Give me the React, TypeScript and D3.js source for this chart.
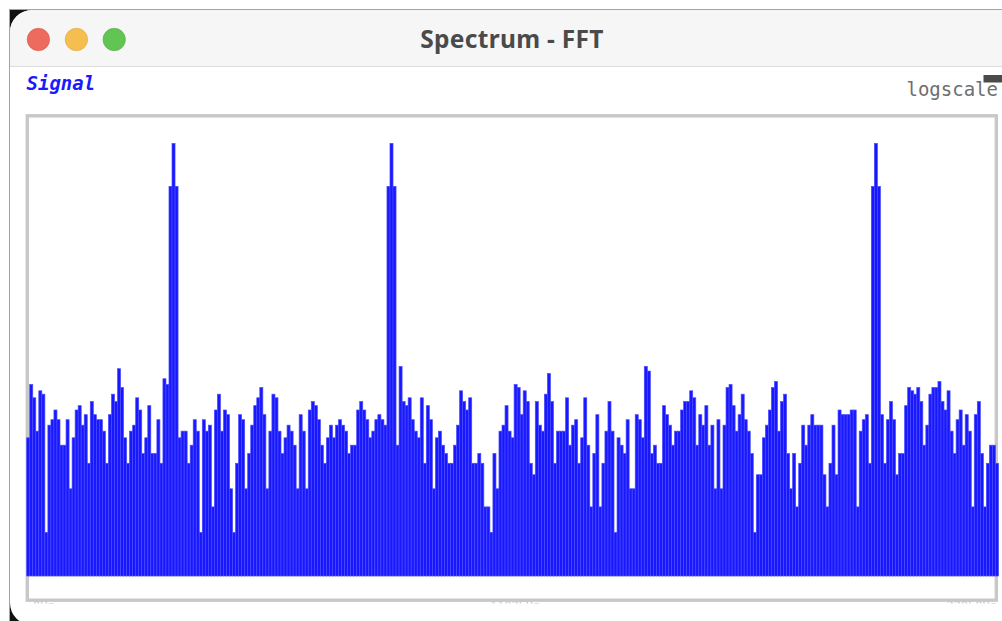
import React from "react";
import * as d3 from "d3";

const width = 1002;
const height = 621;

// FFT magnitudes per bin
const magnitudes = [
  9, 21, 17, 10, 19, 18, 2, 11, 12, 14,
  12, 8, 8, 12, 4, 9, 14, 15, 11, 13,
  6, 16, 13, 12, 12, 10, 6, 13, 18, 16,
  27, 20, 9, 6, 10, 11, 17, 14, 7, 9,
  15, 7, 7, 12, 6, 23, 21, 490, 970, 490,
  9, 10, 10, 6, 8, 12, 10, 2, 12, 10,
  11, 3, 14, 18, 10, 14, 13, 4, 2, 6,
  13, 12, 4, 7, 11, 15, 17, 20, 13, 4,
  10, 18, 17, 10, 7, 9, 11, 10, 8, 4,
  13, 10, 4, 14, 16, 15, 12, 8, 6, 9,
  11, 9, 11, 12, 11, 10, 7, 8, 8, 14,
  16, 14, 12, 9, 10, 12, 13, 12, 11, 490,
  970, 490, 8, 28, 16, 15, 17, 12, 10, 9,
  17, 6, 15, 12, 4, 9, 10, 8, 7, 6,
  6, 8, 11, 19, 16, 14, 17, 6, 6, 7,
  6, 3, 3, 2, 7, 4, 10, 11, 15, 10,
  9, 21, 20, 13, 19, 16, 6, 5, 16, 11,
  10, 18, 25, 16, 6, 10, 10, 10, 17, 8,
  11, 12, 6, 9, 17, 8, 3, 7, 13, 3,
  6, 10, 16, 10, 2, 9, 8, 7, 12, 4,
  4, 13, 12, 9, 28, 26, 7, 8, 6, 6,
  15, 13, 11, 8, 10, 10, 14, 16, 16, 19,
  17, 8, 13, 11, 15, 8, 11, 4, 12, 4,
  11, 20, 21, 15, 10, 13, 18, 12, 10, 7,
  2, 5, 5, 9, 11, 14, 20, 22, 10, 16,
  18, 7, 4, 7, 3, 6, 11, 8, 11, 13,
  11, 11, 11, 5, 3, 6, 11, 5, 14, 13,
  13, 13, 14, 14, 3, 10, 12, 13, 6, 490,
  970, 490, 13, 6, 12, 16, 12, 5, 7, 7,
  15, 20, 19, 18, 20, 16, 8, 11, 18, 20,
  20, 22, 16, 14, 19, 10, 7, 12, 14, 8,
  13, 10, 3, 13, 16, 7, 3, 6, 8, 8,
  6,
];

const axisLabels = ["0Hz", "11025Hz", "22050Hz"];
const windowTitle = "Spectrum - FFT";
const seriesName = "Signal";
const scaleName = "logscale";

const mono = "'DejaVu Sans Mono', 'Liberation Mono', monospace";

const App = () => {
  const x = d3
    .scaleBand<number>()
    .domain(d3.range(magnitudes.length))
    .range([26.7, 998.5])
    .paddingInner(0);

  const y = d3.scaleLog().domain([1, 1000]).range([576, 141.5]);

  // label positions: start / middle / end of the spectrum
  const labelX = d3.scalePoint<string>().domain(axisLabels).range([33, 997]);
  const anchors = ["start", "middle", "end"];

  return (
    <svg
      width={width}
      height={height}
      style={{ position: "absolute", left: 0, top: 0, display: "block", background: "#fff" }}
    >
      <defs>
        <clipPath id="axisClip">
          <rect x={0} y={596} width={width} height={7.5} />
        </clipPath>
      </defs>

      {/* window frame */}
      <rect x={9.5} y={9.5} width={1100} height={700} fill="#111" stroke="#a3a3a3" />
      <rect x={10} y={10} width={1100} height={615} rx={22} fill="#fff" />
      <path d="M10,32 A22,22 0 0 1 32,10 L1010,10 L1010,66 L10,66 Z" fill="#f6f6f7" />
      <line x1={10} x2={width} y1={66.5} y2={66.5} stroke="#dcdcdc" />

      {/* traffic lights */}
      {[
        { cx: 38.4, fill: "#ec6a5e", stroke: "#d5594e" },
        { cx: 76.4, fill: "#f4bf4f", stroke: "#dba53c" },
        { cx: 114.2, fill: "#61c554", stroke: "#52ab45" },
      ].map((b) => (
        <circle key={b.cx} cx={b.cx} cy={39.5} r={11.2} fill={b.fill} stroke={b.stroke} strokeWidth={0.6} />
      ))}

      <text
        x={512}
        y={47.5}
        textAnchor="middle"
        fontFamily="'Noto Sans', 'Open Sans', sans-serif"
        fontWeight={700}
        fontSize={24.5}
        letterSpacing={0.3}
        fill="#4a4a4a"
      >
        {windowTitle}
      </text>

      <text x={26.5} y={90} fontFamily={mono} fontWeight={700} fontStyle="italic" fontSize={19} fill="#1a1aff">
        {seriesName}
      </text>

      <text x={998} y={95.5} textAnchor="end" fontFamily={mono} fontSize={19} fill="#6e6e6e">
        {scaleName}
      </text>
      <rect x={983.5} y={75} width={20} height={7.5} fill="#4a4a4a" />

      {/* axis labels, mostly hidden below the plot box */}
      <g clipPath="url(#axisClip)">
        {axisLabels.map((l, i) => (
          <text
            key={l}
            x={labelX(l)}
            y={610}
            textAnchor={anchors[i]}
            fontFamily={mono}
            fontSize={12}
            fill="#c4c4c4"
          >
            {l}
          </text>
        ))}
      </g>

      {/* plot box */}
      <rect x={27.3} y={115.8} width={969} height={484.4} fill="#fff" stroke="#c8c8c8" strokeWidth={3.4} />

      {/* bars */}
      <g>
        {magnitudes.map((v, i) => (
          <rect
            key={i}
            x={x(i)}
            y={y(v)}
            width={x.bandwidth()}
            height={576 - y(v)}
            fill="#1818ff"
            stroke="#4a4aff"
            strokeWidth={0.7}
          />
        ))}
      </g>
    </svg>
  );
};

export default App;
